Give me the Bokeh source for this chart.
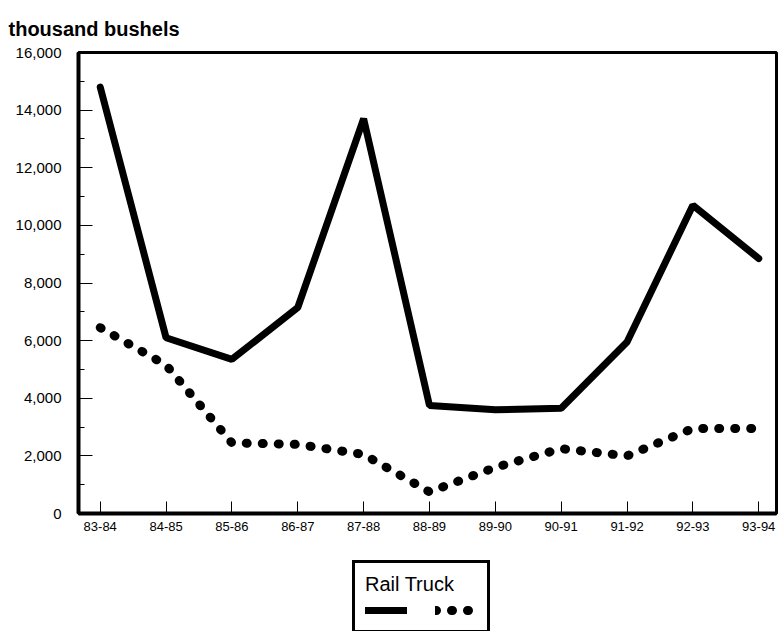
from bokeh.plotting import figure
from bokeh.layouts import column
from bokeh.models import Range1d, NumeralTickFormatter, FixedTicker, Legend, LegendItem
from bokeh.embed import file_html
from bokeh.resources import INLINE

seasons = ["83-84", "84-85", "85-86", "86-87", "87-88", "88-89",
           "89-90", "90-91", "91-92", "92-93", "93-94"]
rail = [14800, 6100, 5350, 7150, 13700, 3750, 3600, 3650, 5950, 10700, 8850]
truck = [6450, 5150, 2450, 2400, 2050, 750, 1600, 2250, 2000, 2950, 2950]
y_ticks = [0, 2000, 4000, 6000, 8000, 10000, 12000, 14000, 16000]

x = list(range(len(seasons)))

p = figure(width=780, height=545, output_backend="svg", toolbar_location=None,
           x_range=Range1d(-0.33, 10.27), y_range=Range1d(0, 16000),
           min_border_left=78, min_border_right=4, min_border_top=52,
           min_border_bottom=32)

p.title.text = "thousand bushels"
p.title.text_font = "Liberation Sans"
p.title.text_font_size = "20px"
p.title.text_font_style = "bold"
p.title.text_color = "black"
p.title.offset = -70
p.title.standoff = 26

p.xgrid.visible = False
p.ygrid.visible = False
p.outline_line_color = "black"
p.outline_line_width = 3
p.outline_line_alpha = 1

p.yaxis.ticker = FixedTicker(ticks=y_ticks, minor_ticks=list(range(0, 16001, 1000)))
p.yaxis.formatter = NumeralTickFormatter(format="0,0")
p.yaxis.major_tick_in = 14
p.yaxis.major_tick_out = 0
p.yaxis.minor_tick_in = 6
p.yaxis.minor_tick_out = 0
p.yaxis.axis_line_width = 4
p.yaxis.major_label_standoff = 17
p.yaxis.major_label_text_font = "Liberation Sans"
p.yaxis.major_label_text_font_size = "15px"
p.yaxis.major_label_text_color = "black"

p.xaxis.ticker = FixedTicker(ticks=x)
p.xaxis.major_label_overrides = {i: s for i, s in enumerate(seasons)}
p.xaxis.major_tick_in = 12
p.xaxis.major_tick_out = 0
p.xaxis.minor_tick_line_color = None
p.xaxis.axis_line_width = 4
p.xaxis.major_label_standoff = 8
p.xaxis.major_label_text_font = "Liberation Sans"
p.xaxis.major_label_text_font_size = "13px"
p.xaxis.major_label_text_color = "black"

p.line(x, rail, line_color="black", line_width=7, line_cap="round")
p.line(x, truck, line_color="black", line_width=9, line_cap="round", line_dash="1 15")

# legend panel below the chart
lg = figure(width=780, height=86, output_backend="svg", toolbar_location=None,
            x_range=Range1d(-100, -99), y_range=Range1d(-100, -99),
            min_border_left=0, min_border_right=0, min_border_top=0,
            min_border_bottom=0)
lg.axis.visible = False
lg.grid.visible = False
lg.outline_line_color = None
l1 = lg.line(x, rail, line_color="black", line_width=7, line_cap="round")
l2 = lg.line(x, truck, line_color="black", line_width=9, line_cap="round",
             line_dash="1 15")

legend = Legend(items=[LegendItem(label="", renderers=[l1]),
                       LegendItem(label="", renderers=[l2])],
                orientation="horizontal", location=(274, -2),
                title="Rail Truck")
legend.title_text_font = "Liberation Sans"
legend.title_text_font_size = "20px"
legend.title_text_font_style = "normal"
legend.title_text_color = "black"
legend.title_standoff = 4
legend.border_line_color = "black"
legend.border_line_width = 3
legend.border_line_alpha = 1
legend.glyph_width = 42
legend.glyph_height = 20
legend.label_width = 0
legend.label_standoff = 0
legend.spacing = 28
legend.padding = 10
legend.margin = 0
lg.add_layout(legend, "center")

open("out.html", "w").write(file_html(column(p, lg), INLINE))
